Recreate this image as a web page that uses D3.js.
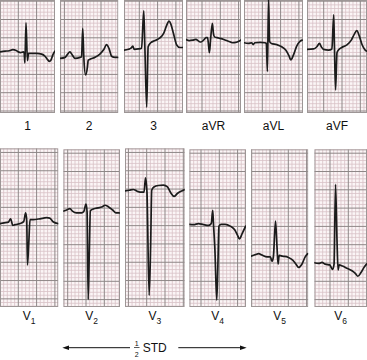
<!DOCTYPE html>
<html><head><meta charset="utf-8">
<script src="https://cdn.jsdelivr.net/npm/d3@7"></script>
<style>html,body{margin:0;padding:0;background:#fff;} svg{display:block;font-family:"Liberation Sans",Arial,sans-serif;}</style>
</head><body><svg id="c" width="367" height="360"></svg>
<script>
// ---- DATA: each lead is [time (mm from strip start), amplitude (mm above baseline)] ----
const leadLabels = ["1","2","3","aVR","aVL","aVF","V1","V2","V3","V4","V5","V6"];
// baseline level, mm above the bottom edge of each strip
const baselineMm = [16.8, 14.9, 17.4, 20.1, 19.2, 17.4, 23.0, 26.0, 31.7, 22.6, 14.1, 11.9];

const lead1 = [[0,-0.1],[1.4,0.1],[2.5,0.2],[3.5,0.5],[4.4,0.3],[5.0,-0.1],[5.6,-0.3],[6.4,-0.1],[6.6,-0.4],[6.8,-3.1],[7.1,7.8],[7.5,-2.5],[7.8,-0.5],[8.6,-0.5],[10.0,-0.5],[11.4,-0.7],[12.3,-1.3],[13.0,-2.2],[13.5,-2.7],[13.9,-2.4],[14.5,-0.8],[15.0,0.1]];
const lead2 = [[0,0],[1.4,0.3],[2.1,1.2],[2.7,1.8],[3.4,0.9],[4.1,0],[5.5,0.3],[5.9,0.5],[6.2,8.2],[6.5,0.5],[7.0,-4.5],[7.5,-2.3],[7.7,-0.5],[8.2,-0.2],[9.5,0.3],[10.9,1.2],[12.0,2.5],[12.7,3.8],[13.4,2.7],[14.1,0.6],[15.0,0.3],[15.9,0.3]];
const lead3 = [[0,-0.2],[1.2,0],[1.9,0.3],[2.4,0.9],[2.8,0],[3.9,0.1],[4.8,0.3],[5.4,10.5],[5.7,0.7],[6.2,-15.8],[6.6,0.7],[7.3,1.8],[8.5,2.4],[9.8,3.1],[10.9,4.5],[11.6,6.4],[12.3,7.7],[12.8,6.9],[13.5,4.4],[14.4,1.2],[15.3,0.5],[16.2,0.5]];
const leadAVR = [[0,0],[0.9,-0.3],[1.8,-0.2],[2.7,0],[3.5,-0.5],[4.1,-0.7],[4.8,-0.2],[5.5,0.5],[5.9,0.5],[6.2,-2.0],[6.4,-3.6],[6.7,-0.2],[7.2,4.4],[7.5,1.6],[7.8,0.7],[8.9,0.4],[10.3,0],[11.6,-0.5],[12.7,-0.9],[13.6,-0.8],[14.4,-0.5],[14.9,-0.2]];
const leadAVL = [[0,0],[1.2,-0.2],[2.1,0],[2.5,-0.5],[3.0,0],[4.4,0.1],[5.7,0],[6.1,-0.2],[6.4,-7.9],[6.7,12.1],[7.0,0.3],[7.5,-0.2],[8.9,-0.5],[10.3,-1.1],[11.4,-2.0],[12.3,-3.6],[12.8,-4.7],[13.5,-3.4],[14.4,-0.9],[15.3,0.4],[15.9,0.7]];
const leadAVF = [[0,0],[1.8,0.1],[2.7,0.7],[3.4,1.6],[3.9,0.7],[4.5,0],[5.9,-0.2],[6.8,0.1],[7.3,9.4],[7.5,0.7],[7.8,-11.1],[8.2,-0.9],[8.6,-0.2],[9.5,0.5],[10.9,1.2],[12.1,2.5],[12.9,4.1],[13.6,5.1],[14.3,3.6],[15.0,1.4],[15.9,-0.2],[16.4,-0.5]];
const leadV1 = [[0,-0.2],[1.1,0],[2.3,0.2],[2.9,1.1],[3.5,-0.7],[4.1,-0.5],[5.5,-0.2],[6.5,0.4],[7.0,2.7],[7.3,0.7],[7.5,-11.5],[7.9,-4.7],[8.2,0.9],[9.1,0.9],[10.9,1.1],[12.7,1.4],[13.6,1.3],[14.5,0.3],[15.9,-0.2]];
const leadV2 = [[0,0.2],[0.9,0.5],[1.8,0.9],[2.5,0.2],[3.6,-0.3],[5.0,-0.3],[5.6,0.1],[6.2,2.1],[6.5,0],[6.8,-23.9],[7.1,-11.4],[7.4,0.3],[8.2,0.8],[9.5,1.1],[10.5,1.3],[11.4,1.8],[12.3,1.4],[13.5,0.5],[14.4,-0.3],[15.3,-0.3]];
const leadV3 = [[0,0],[1.2,0.2],[2.3,0.4],[3.2,0],[4.1,-0.3],[5.2,-0.3],[5.6,3.6],[6.0,-0.3],[6.6,-28.5],[7.0,-15.3],[7.3,0.2],[7.9,1.1],[9.1,1.5],[10.5,1.6],[11.6,1.1],[12.5,-0.5],[13.4,-1.5],[14.3,-0.7],[15.5,0],[16.4,0.4]];
const leadV4 = [[0,0],[1.2,-0.1],[2.5,0.2],[3.9,-0.1],[5.3,-0.3],[6.0,0.2],[6.4,3.8],[6.6,0.2],[7.0,-7.1],[7.5,-20.7],[7.8,-11.6],[8.1,-0.5],[8.7,0],[9.8,0],[11.2,-0.5],[12.4,-1.5],[13.1,-2.8],[13.7,-4.0],[14.5,-2.4],[15.4,-0.5]];
const leadV5 = [[0,-0.2],[1.2,0.2],[2.1,0.5],[3.0,0.1],[4.4,-0.4],[5.3,-0.4],[5.7,-1.6],[6.1,-0.5],[6.7,9.4],[7.1,2.4],[7.4,-2.4],[7.7,0],[8.6,-0.2],[10.1,-0.5],[11.4,-1.3],[12.3,-2.4],[13.0,-3.3],[13.9,-2.4],[14.8,-0.4],[15.5,0.5]];
const leadV6 = [[0,0.2],[1.2,0],[2.1,0.3],[3.0,-0.2],[4.2,-0.4],[5.0,-1.6],[5.4,-0.2],[5.8,21.6],[6.2,6.4],[6.5,-1.8],[6.8,-0.4],[7.7,-0.7],[8.9,-1.3],[10.3,-2.0],[11.2,-2.7],[11.9,-3.5],[12.8,-2.4],[13.7,-0.9],[14.5,0]];
const traces = [lead1, lead2, lead3, leadAVR, leadAVL, leadAVF, leadV1, leadV2, leadV3, leadV4, leadV5, leadV6];
const scaleLabel = ["1", "2", "STD"];

// ---- LAYOUT (pixels) ----
const MM = 3.66;
const layout = [
  {x0:0,     x1:55,    y0:0,     y1:113, gx:0,    gy:1.2},
  {x0:60,    x1:118.3, y0:0,     y1:113, gx:4.4,  gy:1.2},
  {x0:124,   x1:183,   y0:0,     y1:113, gx:15.3, gy:1.2},
  {x0:186,   x1:241,   y0:0,     y1:113, gx:16,   gy:1.2},
  {x0:244,   x1:303,   y0:0,     y1:113, gx:0,    gy:1.2},
  {x0:307,   x1:367,   y0:0,     y1:113, gx:16.7, gy:1.2},
  {x0:0,     x1:58.3,  y0:148.3, y1:307, gx:0,    gy:4.15},
  {x0:63.3,  x1:120,   y0:149.3, y1:307, gx:4.4,  gy:3.9},
  {x0:125,   x1:184.7, y0:148.3, y1:307, gx:3.4,  gy:4.15},
  {x0:189.3, x1:246,   y0:149.3, y1:307, gx:11.7, gy:3.9},
  {x0:251,   x1:308.3, y0:149.3, y1:307, gx:0.7,  gy:3.9},
  {x0:314.3, x1:367,   y0:149.3, y1:307, gx:15.7, gy:3.9}
];

const svg = d3.select("#c");
const defs = svg.append("defs");
const mod = (a, n) => ((a % n) + n) % n;

layout.forEach((L, i) => {
  const wmm = (L.x1 - L.x0) / MM, hmm = (L.y1 - L.y0) / MM, base = baselineMm[i];
  const x = d3.scaleLinear().domain([0, wmm]).range([L.x0, L.x1]);
  const y = d3.scaleLinear().domain([-base, hmm - base]).range([L.y1, L.y0]);
  const gxo = (L.gx / MM);
  defs.append("clipPath").attr("id", "cp" + i).append("rect")
    .attr("x", L.x0).attr("y", L.y0).attr("width", L.x1 - L.x0).attr("height", L.y1 - L.y0);
  const g = svg.append("g").attr("clip-path", `url(#cp${i})`);
  g.append("rect").attr("x", L.x0).attr("y", L.y0).attr("width", L.x1 - L.x0).attr("height", L.y1 - L.y0).attr("fill", "#fbf5f6");
  // vertical grid lines (mm units from strip start)
  const vx = d3.range(Math.floor(-gxo) , Math.ceil(wmm - gxo) + 1).map(k => ({v: gxo + k, major: mod(k, 5) === 0}));
  const yTop = (hmm - base);
  const gyo = L.gy / MM; // in mm from top
  const hy = d3.range(-1, Math.ceil(hmm) + 2).map(k => ({v: yTop - (gyo + k), major: mod(k, 5) === 0}));
  ["minor", "major"].forEach(kind => {
    const isMaj = kind === "major";
    g.selectAll(null).data(vx.filter(d => d.major === isMaj)).enter().append("line")
      .attr("x1", d => x(d.v)).attr("x2", d => x(d.v)).attr("y1", L.y0).attr("y2", L.y1)
      .attr("stroke", isMaj ? "#8e8787" : "#d8c2c6").attr("stroke-width", isMaj ? 1 : 0.8);
    g.selectAll(null).data(hy.filter(d => d.major === isMaj)).enter().append("line")
      .attr("y1", d => y(d.v)).attr("y2", d => y(d.v)).attr("x1", L.x0).attr("x2", L.x1)
      .attr("stroke", isMaj ? "#8e8787" : "#d8c2c6").attr("stroke-width", isMaj ? 1 : 0.8);
  });
  g.append("rect").attr("x", L.x0 + 0.5).attr("y", L.y0 + 0.5).attr("width", L.x1 - L.x0 - 1).attr("height", L.y1 - L.y0 - 1)
    .attr("fill", "none").attr("stroke", "#9d9696").attr("stroke-width", 1);
  const line = d3.line().x(d => x(d[0])).y(d => y(d[1])).curve(d3.curveMonotoneX);
  g.append("path").datum(traces[i]).attr("d", line)
    .attr("fill", "none").attr("stroke", "#1b1b1b").attr("stroke-width", 1.7)
    .attr("stroke-linejoin", "round").attr("stroke-linecap", "round");

  // label
  const cx = (L.x0 + L.x1) / 2;
  const lab = leadLabels[i];
  if (lab[0] === "V") {
    const t = svg.append("text").attr("x", cx).attr("y", 320).attr("text-anchor", "middle")
      .attr("font-size", 12).attr("fill", "#111");
    t.append("tspan").text("V");
    t.append("tspan").attr("font-size", 8.5).attr("dy", 3.5).text(lab.slice(1));
  } else {
    svg.append("text").attr("x", cx).attr("y", 129.5).attr("text-anchor", "middle")
      .attr("font-size", 12).attr("fill", "#111").text(lab);
  }
});

// scale arrow "1/2 STD"
const ay = 347.7;
const arrowG = svg.append("g").attr("stroke", "#111").attr("fill", "#111");
arrowG.append("line").attr("x1", 66).attr("x2", 130).attr("y1", ay).attr("y2", ay).attr("stroke-width", 1);
arrowG.append("line").attr("x1", 178.3).attr("x2", 242).attr("y1", ay).attr("y2", ay).attr("stroke-width", 1);
arrowG.append("path").attr("stroke", "none").attr("d", `M62.3,${ay} L69,${ay-2.3} L69,${ay+2.3} Z`);
arrowG.append("path").attr("stroke", "none").attr("d", `M246.7,${ay} L240,${ay-2.3} L240,${ay+2.3} Z`);
svg.append("text").attr("x", 136.7).attr("y", 346).attr("text-anchor", "middle").attr("font-size", 7).attr("fill", "#111").text(scaleLabel[0]);
svg.append("line").attr("x1", 134).attr("x2", 139.5).attr("y1", 347.5).attr("y2", 347.5).attr("stroke", "#111").attr("stroke-width", 0.7);
svg.append("text").attr("x", 136.7).attr("y", 356.5).attr("text-anchor", "middle").attr("font-size", 7).attr("fill", "#111").text(scaleLabel[1]);
svg.append("text").attr("x", 142.7).attr("y", 351.8).attr("font-size", 12).attr("fill", "#111").text(scaleLabel[2]);
</script></body></html>
